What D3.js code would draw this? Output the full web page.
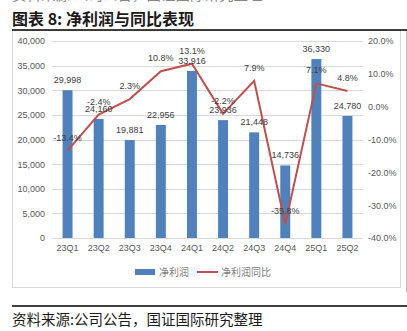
<!DOCTYPE html>
<html>
<head>
<meta charset="utf-8">
<script src="https://cdn.jsdelivr.net/npm/d3@7"></script>
<style>
  html, body { margin: 0; padding: 0; background: #fff; }
  svg { display: block; }
</style>
</head>
<body>
<svg id="chart" width="407" height="331"></svg>
<script>
// Quarterly net profit and year-on-year growth
const quarters = ["23Q1","23Q2","23Q3","23Q4","24Q1","24Q2","24Q3","24Q4","25Q1","25Q2"];
const netProfit = [29998, 24160, 19881, 22956, 33916, 23936, 21448, 14736, 36330, 24780];
const yoyGrowth = [-13.4, -2.4, 2.3, 10.8, 13.1, -2.2, 7.9, -35.8, 7.1, 4.8];
const leftTicks = [0, 5000, 10000, 15000, 20000, 25000, 30000, 35000, 40000];
const rightTicks = [-40, -30, -20, -10, 0, 10, 20];
const seriesNames = ["净利润", "净利润同比"];

const barColor = "#4F81BD";
const lineColor = "#C0504D";
const latin = "'Liberation Sans', Arial, sans-serif";
const cjk = "'Noto Sans CJK SC', sans-serif";

const svg = d3.select("#chart");

// previous section's source line, cut off at the top edge
svg.append("text")
  .attr("x", 12).attr("y", 0)
  .attr("font-family", cjk).attr("font-size", 14.5)
  .attr("fill", "#888")
  .text("资料来源:公司公告，国证国际研究整理");

// title
svg.append("text")
  .attr("x", 12).attr("y", 25)
  .attr("font-family", cjk).attr("font-size", 16).attr("font-weight", "bold")
  .attr("fill", "#1a1a1a")
  .text("图表 8: 净利润与同比表现");

// chart frame
svg.append("rect")
  .attr("x", 12.5).attr("y", 30.5).attr("width", 388).attr("height", 257)
  .attr("fill", "none").attr("stroke", "#d9d9d9");
svg.append("line")
  .attr("x1", 406.5).attr("x2", 406.5).attr("y1", 30).attr("y2", 292)
  .attr("stroke", "#bfbfbf");

// rules under title and above source
svg.append("line").attr("x1", 12).attr("x2", 407).attr("y1", 30).attr("y2", 30)
  .attr("stroke", "#000").attr("stroke-width", 1.3);
svg.append("line").attr("x1", 12).attr("x2", 407).attr("y1", 306).attr("y2", 306)
  .attr("stroke", "#000").attr("stroke-width", 1.5);

// source
svg.append("text")
  .attr("x", 12).attr("y", 325)
  .attr("font-family", cjk).attr("font-size", 14.5)
  .attr("fill", "#1a1a1a")
  .text("资料来源:公司公告，国证国际研究整理");

// scales
const x = d3.scaleBand().domain(quarters).range([52, 363])
  .paddingInner(0.68).paddingOuter(0.34);
const yL = d3.scaleLinear().domain([0, 40000]).range([238, 41]);
const yR = d3.scaleLinear().domain([-40, 20]).range([238, 41]);

// gridlines
svg.append("g").selectAll("line").data(leftTicks).join("line")
  .attr("x1", 52).attr("x2", 363)
  .attr("y1", d => Math.round(yL(d)) + 0.5).attr("y2", d => Math.round(yL(d)) + 0.5)
  .attr("stroke", "#d9d9d9");

// left axis
const axL = svg.append("g").attr("transform", "translate(52,0)")
  .call(d3.axisLeft(yL).tickValues(leftTicks).tickSize(0).tickPadding(7)
    .tickFormat(d3.format(",")));
axL.select(".domain").remove();
axL.selectAll("text").attr("font-family", latin).attr("font-size", 9).attr("fill", "#595959");

// right axis
const axR = svg.append("g").attr("transform", "translate(363,0)")
  .call(d3.axisRight(yR).tickValues(rightTicks).tickSize(0).tickPadding(5)
    .tickFormat(d => d.toFixed(1) + "%"));
axR.select(".domain").remove();
axR.selectAll("text").attr("font-family", latin).attr("font-size", 9).attr("fill", "#595959");

// bottom axis
const axB = svg.append("g").attr("transform", "translate(0,238)")
  .call(d3.axisBottom(x).tickSize(0).tickPadding(7));
axB.select(".domain").remove();
axB.selectAll("text").attr("font-family", latin).attr("font-size", 9).attr("fill", "#595959");

// bars
svg.append("g").selectAll("rect").data(netProfit).join("rect")
  .attr("x", (d, i) => x(quarters[i]))
  .attr("width", x.bandwidth())
  .attr("y", d => yL(d))
  .attr("height", d => yL(0) - yL(d))
  .attr("fill", barColor);

// growth line
const line = d3.line()
  .x((d, i) => x(quarters[i]) + x.bandwidth() / 2)
  .y(d => yR(d));
svg.append("path").datum(yoyGrowth)
  .attr("d", line)
  .attr("fill", "none").attr("stroke", lineColor).attr("stroke-width", 2)
  .attr("stroke-linejoin", "miter");

// bar value labels
svg.append("g").selectAll("text").data(netProfit).join("text")
  .attr("x", (d, i) => x(quarters[i]) + x.bandwidth() / 2)
  .attr("y", d => yL(d) - 7)
  .attr("text-anchor", "middle")
  .attr("font-family", latin).attr("font-size", 9).attr("fill", "#404040")
  .text(d => d3.format(",")(d));

// growth value labels
svg.append("g").selectAll("text").data(yoyGrowth).join("text")
  .attr("x", (d, i) => x(quarters[i]) + x.bandwidth() / 2)
  .attr("y", d => yR(d) - 10)
  .attr("text-anchor", "middle")
  .attr("font-family", latin).attr("font-size", 9).attr("fill", "#404040")
  .text(d => d.toFixed(1) + "%");

// legend
const lg = svg.append("g");
lg.append("rect").attr("x", 135).attr("y", 269).attr("width", 20).attr("height", 6).attr("fill", barColor);
lg.append("text").attr("x", 159).attr("y", 276)
  .attr("font-family", cjk).attr("font-size", 10).attr("fill", "#7f7f7f")
  .text(seriesNames[0]);
lg.append("line").attr("x1", 197).attr("x2", 218).attr("y1", 272).attr("y2", 272)
  .attr("stroke", lineColor).attr("stroke-width", 2);
lg.append("text").attr("x", 221).attr("y", 276)
  .attr("font-family", cjk).attr("font-size", 10).attr("fill", "#7f7f7f")
  .text(seriesNames[1]);
</script>
</body>
</html>
